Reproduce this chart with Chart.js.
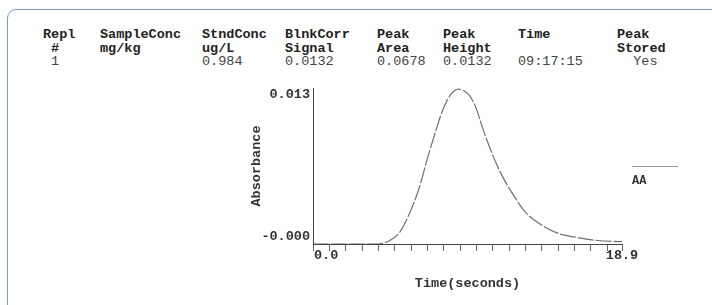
<!DOCTYPE html>
<html lang="en">
<head>
  <meta charset="UTF-8">
  <title>Peak - Absorbance vs Time</title>
  <script src="https://cdn.jsdelivr.net/npm/chart.js"></script>
  <style>
    body { margin: 0; width: 712px; height: 305px; overflow: hidden; background: #fff; position: relative; }
    .frame {
      position: absolute; left: 7px; top: 9px; width: 720px; height: 320px;
      border: 1.5px solid #7f9bcf; border-radius: 9px;
    }
    .col {
      position: absolute; top: 28px;
      font-family: "Liberation Mono", "DejaVu Sans Mono", monospace;
      font-size: 13.5px; line-height: 13.5px; white-space: pre; color: #222;
    }
    .col b { font-weight: bold; }
    .col span { color: #444; }
    .chart-box { position: absolute; left: 248px; top: 80px; width: 400px; height: 220px; }
    .legend-line { position: absolute; left: 632px; top: 166px; width: 46px; height: 1px; background: #999; }
    .legend-text {
      position: absolute; left: 632px; top: 174px;
      font-family: "Liberation Mono", monospace; font-weight: bold; font-size: 12px; color: #333;
    }
  </style>
</head>
<body>
  <div class="frame"></div>

  <!-- results header -->
  <div id="header"></div>

  <div class="chart-box">
    <canvas id="peakChart" width="400" height="220"></canvas>
  </div>

  <div class="legend-line"></div>
  <div class="legend-text">AA</div>

  <script>
    // header table
    const colX = [43, 100, 202, 285, 377, 443, 518, 617];
    const colHead1 = ['Repl', 'SampleConc', 'StndConc', 'BlnkCorr', 'Peak', 'Peak', 'Time', 'Peak'];
    const colHead2 = [' #', 'mg/kg', 'ug/L', 'Signal', 'Area', 'Height', '', 'Stored'];
    const colValues = [' 1', '', '0.984', '0.0132', '0.0678', '0.0132', '09:17:15', '  Yes'];

    // peak trace (time in s, absorbance)
    const timeSec = [0, 1, 2, 3, 3.9, 4.7, 5.3, 5.9, 6.5, 7.0, 7.5, 7.9, 8.4, 8.9, 9.3, 9.6, 10.0, 10.3, 10.9, 11.5, 12.2, 13.0, 14.0, 15.0, 16.0, 17.4, 18.9];
    const absorbance = [0, 0, 0, 0, 0, 0.0003, 0.0010, 0.0026, 0.0048, 0.0073, 0.0096, 0.0113, 0.0127, 0.0132, 0.0130, 0.0126, 0.0115, 0.0102, 0.0079, 0.0060, 0.0043, 0.0027, 0.0016, 0.0009, 0.0006, 0.0003, 0.0002];

    const xMin = 0, xMax = 18.9;
    const yMin = 0, yMax = 0.0133;
    const xTickValues = [0, xMax];
    const xTickLabels = ['0.0', '18.9'];
    const yTickValues = [0.013, 0];
    const yTickLabels = ['0.013', '-0.000'];

    const header = document.getElementById('header');
    colX.forEach((x, i) => {
      const d = document.createElement('div');
      d.className = 'col';
      d.style.left = x + 'px';
      d.innerHTML = '<b>' + colHead1[i] + '</b>\n<b>' + colHead2[i] + '</b>\n<span>' + colValues[i] + '</span>';
      header.appendChild(d);
    });

    const monoFont = { family: 'Liberation Mono', size: 13.5, weight: 'bold' };

    // draws the few axis numbers where the instrument printout puts them
    const endLabels = {
      id: 'endLabels',
      afterDraw(chart) {
        const ctx = chart.ctx;
        const xs = chart.scales.x, ys = chart.scales.y;
        ctx.save();
        ctx.font = 'bold 13.5px "Liberation Mono"';
        ctx.fillStyle = '#333';
        ctx.textBaseline = 'middle';
        // y labels
        ctx.textAlign = 'right';
        ctx.fillText(yTickLabels[0], xs.left - 3, ys.getPixelForValue(yTickValues[0]) + 3);
        ctx.textBaseline = 'bottom';
        ctx.fillText(yTickLabels[1], xs.left - 3, ys.getPixelForValue(yTickValues[1]) - 1);
        // x labels
        ctx.textBaseline = 'middle';
        ctx.textAlign = 'left';
        ctx.fillText(xTickLabels[0], xs.getPixelForValue(xTickValues[0]) + 1, ys.bottom + 12);
        ctx.textAlign = 'center';
        ctx.fillText(xTickLabels[1], xs.getPixelForValue(xTickValues[1]), ys.bottom + 12);
        ctx.restore();
      }
    };

    new Chart(document.getElementById('peakChart'), {
      type: 'line',
      data: {
        datasets: [{
          data: timeSec.map((t, i) => ({ x: t, y: absorbance[i] })),
          borderColor: '#707070',
          borderWidth: 1.2,
          borderDash: [16, 2],
          pointRadius: 0,
          cubicInterpolationMode: 'monotone',
          fill: false
        }]
      },
      options: {
        responsive: false,
        animation: false,
        layout: { padding: { top: 8, right: 26, left: 0, bottom: 0 } },
        plugins: { legend: { display: false }, tooltip: { enabled: false } },
        scales: {
          x: {
            type: 'linear',
            min: xMin,
            max: xMax,
            afterBuildTicks: (scale) => {
              const t = [];
              for (let v = 0; v <= 18; v++) t.push({ value: v });
              t.push({ value: xMax });
              scale.ticks = t;
            },
            afterFit: (scale) => { scale.height = 56; },
            grid: { drawOnChartArea: false, drawTicks: true, tickLength: 7, color: '#666' },
            border: { display: true, color: '#444', width: 1 },
            ticks: { callback: () => '', padding: 0 },
            title: {
              display: true,
              text: 'Time(seconds)',
              font: monoFont,
              color: '#333',
              padding: { top: 0, bottom: 8 }
            }
          },
          y: {
            min: yMin,
            max: yMax,
            afterFit: (scale) => { scale.width = 65; },
            grid: { display: false },
            border: { display: true, color: '#444', width: 1 },
            ticks: { display: false },
            title: {
              display: true,
              text: 'Absorbance',
              font: monoFont,
              color: '#333',
              padding: { top: 0, bottom: 0 }
            }
          }
        }
      },
      plugins: [endLabels]
    });
  </script>
</body>
</html>
